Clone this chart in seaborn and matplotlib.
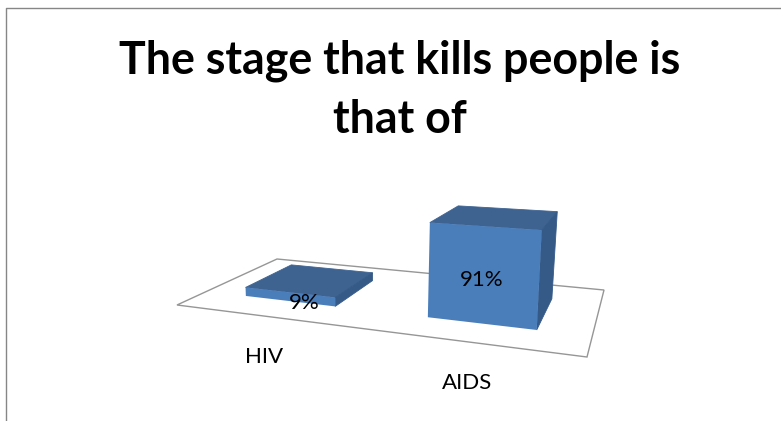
import numpy as np
import matplotlib.pyplot as plt
import matplotlib.transforms as mtransforms
from matplotlib.patches import Polygon
import seaborn as sns

categories = ["HIV", "AIDS"]
values = [9, 91]
value_labels = ["9%", "91%"]
title = "The stage that kills people is\nthat of"

W, H = 781, 421
FLOOR = [(177, 305), (587, 357), (604, 290), (277, 259)]
BAR_WIDTH = 0.515
D_FRONT, D_BACK = 0.25, 0.745
FRONT, TOP, SIDE = "#4a7ebb", "#3e6391", "#355a87"
FRAME = "#868686"

sns.set_theme(style="white")
plt.rcParams['font.family'] = ['Lato', 'DejaVu Sans']


def floor_matrix():
    # homography from the unit floor square to image pixels
    src = [(0, 0), (1, 0), (1, 1), (0, 1)]
    rows, rhs = [], []
    for (s, t), (px, py) in zip(src, FLOOR):
        rows.append([s, t, 1, 0, 0, 0, -s * px, -t * px])
        rows.append([0, 0, 0, s, t, 1, -s * py, -t * py])
        rhs += [px, py]
    return np.append(np.linalg.solve(rows, rhs), 1).reshape(3, 3)


M = floor_matrix()


def project(x, v, d):
    # x = category position, v = percent, d = depth; returns display pixels
    x, v, d = np.asarray(x, float), np.asarray(v, float), np.asarray(d, float)
    s = (x + 0.5) / 2
    w = M[2, 0] * s + M[2, 1] * d + M[2, 2]
    px = (M[0, 0] * s + M[0, 1] * d + M[0, 2]) / w
    py = (M[1, 0] * s + M[1, 1] * d + M[1, 2]) / w
    # verticals lean away from the centre and grow towards the viewer
    px = px + (px - 354) * 0.0003 * v
    py = py - 0.985 * v / w
    return np.column_stack([px, H - py])


class FrontFace(mtransforms.Transform):
    input_dims = 2
    output_dims = 2

    def transform_non_affine(self, values):
        values = np.asarray(values)
        return project(values[:, 0], values[:, 1], np.full(len(values), D_FRONT))


fig = plt.figure(figsize=(W / 100, H / 100), dpi=100)
ax = fig.add_axes([0, 0, 1, 1])
sns.barplot(x=categories, y=values, width=BAR_WIDTH, color=FRONT, saturation=1, ax=ax)
ax.axis('off')
ax.set_autoscale_on(False)
bars = list(ax.patches)

pixels = mtransforms.IdentityTransform()


def face(points, color, z):
    # thin same-colour edge hides the antialiasing seam between faces
    ax.add_patch(Polygon(np.vstack(points), closed=True, facecolor=color, edgecolor=color,
                         linewidth=0.6, transform=pixels, clip_on=False, zorder=z))


# floor plate
floor_pts = np.vstack([project(-0.5, 0, 0), project(1.5, 0, 0), project(1.5, 0, 1), project(-0.5, 0, 1)])
ax.add_patch(Polygon(floor_pts, closed=True, fill=False, edgecolor="#969696", linewidth=1,
                     transform=pixels, clip_on=False, zorder=0.5))

for bar in bars:
    x0, x1 = bar.get_x(), bar.get_x() + bar.get_width()
    v = bar.get_height()
    bar.set_transform(FrontFace())
    bar.set_clip_on(False)
    bar.set_linewidth(0)
    bar.set_zorder(3)
    face([project(x0, v, D_FRONT), project(x1, v, D_FRONT), project(x1, v, D_BACK), project(x0, v, D_BACK)], TOP, 2)
    face([project(x1, 0, D_FRONT), project(x1, v, D_FRONT), project(x1, v, D_BACK), project(x1, 0, D_BACK)], SIDE, 2)

# value labels, roughly on the front face
label_shift = [(15, -6), (-1, -5)]
for pos, v in enumerate(values):
    px, py = project(pos, v / 2, D_FRONT)[0]
    ax.text(px + label_shift[pos][0], py + label_shift[pos][1], value_labels[pos], ha='center', va='center',
            fontsize=16, color='black', transform=pixels, zorder=5)

# category labels below the front edge of the floor
for pos, name in enumerate(categories):
    px, py = project(pos, 0, 0)[0]
    ax.text(px, py - 41, name, ha='center', va='center', fontsize=16, color='black',
            transform=pixels, zorder=5)

ax.set_title(title, fontsize=32.2, fontweight='bold', color='black', x=399.5 / W, y=1 - 133 / H,
             linespacing=1.5, pad=0)

# chart frame, only left and top edges are in the crop
ax.plot([5.5, 5.5, W], [0, H - 7.5, H - 7.5], color=FRAME, linewidth=1, transform=pixels, clip_on=False, zorder=1)

fig.savefig("out.png", dpi=100)
